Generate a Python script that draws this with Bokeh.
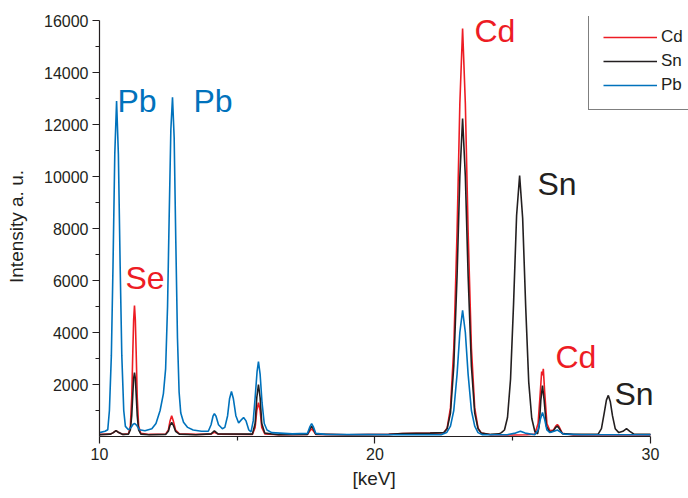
from bokeh.plotting import figure
from bokeh.models import Label, Legend, LegendItem, FixedTicker, Range1d, Title
from bokeh.embed import file_html
from bokeh.resources import INLINE

# ---------------- data ----------------
cd_x = [10.00, 10.40, 10.50, 10.60, 10.70, 10.85, 11.05, 11.12, 11.17, 11.21, 11.24, 11.27, 11.30, 11.33,
        11.37, 11.42, 11.50, 11.80, 12.40, 12.50, 12.56, 12.62, 12.68, 12.76, 12.90, 13.50, 14.05, 14.17,
        14.30, 15.55, 15.65, 15.71, 15.77, 15.83, 15.89, 16.00, 16.50, 17.55, 17.64, 17.70, 17.76, 17.85,
        19.00, 20.50, 21.00, 22.00, 22.50, 22.62, 22.74, 22.86, 22.98, 23.08, 23.18, 23.28, 23.38, 23.50,
        23.62, 23.74, 23.86, 24.20, 25.00, 25.50, 25.80, 25.92, 26.00, 26.05, 26.08, 26.11, 26.16, 26.24,
        26.35, 26.48, 26.56, 26.62, 26.68, 26.80, 27.20, 28.50, 30.00]
cd_y = [80, 90, 150, 230, 150, 80, 100, 400, 1500, 3300, 4500, 5040, 4500, 3300,
        1500, 400, 120, 80, 90, 250, 600, 800, 600, 250, 100, 80, 90, 160,
        90, 80, 350, 1000, 1300, 1000, 350, 100, 70, 80, 220, 300, 220, 80,
        70, 80, 110, 130, 150, 330, 1100, 3400, 7900, 12800, 15690, 12800, 7900, 3400,
        1100, 330, 130, 70, 60, 70, 90, 500, 1700, 2500, 2350, 2600, 1700, 500,
        220, 250, 400, 460, 380, 120, 60, 60, 60]

sn_x = [10.00, 10.40, 10.50, 10.60, 10.70, 10.85, 11.05, 11.12, 11.17, 11.21, 11.24, 11.27, 11.30, 11.33,
        11.37, 11.42, 11.50, 11.80, 12.40, 12.50, 12.56, 12.62, 12.68, 12.76, 12.90, 13.50, 14.05, 14.17,
        14.30, 15.55, 15.65, 15.71, 15.77, 15.83, 15.89, 16.00, 16.50, 17.55, 17.64, 17.70, 17.76, 17.85,
        19.00, 20.50, 21.00, 22.00, 22.50, 22.62, 22.74, 22.86, 22.98, 23.08, 23.18, 23.28, 23.38, 23.50,
        23.62, 23.74, 23.86, 24.20, 24.50, 24.59, 24.70, 24.81, 24.92, 25.03, 25.14, 25.25, 25.36, 25.47,
        25.58, 25.69, 25.80, 25.90, 25.96, 26.02, 26.08, 26.14, 26.22, 26.35, 26.48, 26.56, 26.62, 26.68,
        26.80, 27.20, 28.10, 28.22, 28.32, 28.40, 28.47, 28.54, 28.62, 28.72, 28.85, 29.00, 29.13, 29.25,
        29.40, 30.00]
sn_y = [70, 90, 150, 230, 150, 80, 90, 250, 800, 1650, 2250, 2460, 2250, 1650,
        800, 250, 90, 70, 80, 200, 430, 540, 430, 200, 90, 70, 100, 220,
        100, 90, 500, 1500, 2000, 1500, 500, 130, 70, 80, 300, 400, 300, 90,
        70, 80, 110, 130, 150, 300, 900, 2700, 6200, 10000, 12230, 10000, 6200, 2700,
        900, 300, 130, 80, 100, 150, 250, 730, 2200, 5100, 8500, 10040, 8400, 5000,
        2100, 700, 200, 100, 400, 1400, 1960, 1400, 400, 160, 220, 350, 400, 320,
        110, 80, 90, 300, 900, 1400, 1580, 1350, 800, 300, 150, 200, 300, 200,
        90, 80]

pb_x = [10.00, 10.20, 10.30, 10.36, 10.43, 10.49, 10.555, 10.62, 10.685, 10.75, 10.81, 10.88, 10.94, 11.05,
        11.15, 11.22, 11.28, 11.35, 11.45, 11.65, 11.90, 12.05, 12.20, 12.32, 12.40, 12.47, 12.53, 12.59,
        12.65, 12.71, 12.77, 12.83, 12.89, 12.95, 13.05, 13.20, 13.40, 13.70, 13.95, 14.05, 14.12, 14.17,
        14.23, 14.32, 14.46, 14.55, 14.65, 14.72, 14.79, 14.86, 14.95, 15.05, 15.13, 15.23, 15.32, 15.42,
        15.50, 15.58, 15.65, 15.72, 15.77, 15.83, 15.90, 15.98, 16.08, 16.25, 17.00, 17.55, 17.64, 17.70,
        17.76, 17.85, 18.20, 21.00, 22.40, 22.60, 22.74, 22.86, 22.98, 23.08, 23.18, 23.28, 23.38, 23.50,
        23.62, 23.74, 23.90, 24.80, 25.10, 25.28, 25.45, 25.80, 25.92, 26.00, 26.08, 26.16, 26.24, 26.35,
        26.50, 26.62, 26.72, 26.85, 27.50, 30.00]
pb_y = [150, 200, 260, 1000, 3100, 6550, 10870, 12900, 10870, 6550, 3100, 1000, 390, 260,
        350, 470, 500, 430, 260, 220, 300, 500, 1000, 1650, 2600, 5000, 8500, 11800,
        13050, 11500, 7500, 3800, 1700, 900, 550, 350, 250, 200, 200, 450, 780, 880,
        780, 450, 300, 350, 800, 1450, 1730, 1450, 800, 520, 620, 730, 600, 250,
        180, 600, 1500, 2500, 2880, 2400, 1300, 500, 250, 150, 100, 120, 380, 500,
        380, 120, 80, 70, 70, 150, 400, 1000, 2400, 4000, 4850, 4000, 2400, 1000,
        400, 150, 70, 70, 130, 200, 130, 70, 250, 650, 920, 650, 250, 150,
        200, 250, 180, 90, 70, 70]

series_names = ["Cd", "Sn", "Pb"]
series_colors = ["#ed1c24", "#231f20", "#0072bc"]

peak_texts = ["Pb", "Pb", "Se", "Cd", "Sn", "Cd", "Sn"]
peak_text_x = [10.65, 13.41, 10.94, 23.61, 25.90, 26.55, 28.69]
peak_text_y = [12920, 12920, 6080, 15615, 9730, 3040, 1650]
peak_text_series = [2, 2, 0, 0, 1, 0, 1]

x_ticks = [10, 20, 30]
x_minor = [15, 25]
y_ticks = [2000, 4000, 6000, 8000, 10000, 12000, 14000, 16000]
y_minor = [1000, 3000, 5000, 7000, 9000, 11000, 13000, 15000]
x_title = "[keV]"
y_title = "Intensity a. u."

# ---------------- figure ----------------
FONT = "Liberation Sans"
INK = "#231f20"

# frame runs past the axis ends (axis bounds stop at 30 keV / 16000) so the legend can sit at the edge
p = figure(width=688, height=498, x_range=Range1d(10, 31.38), y_range=Range1d(0, 16154),
           output_backend="svg", toolbar_location=None,
           min_border_left=99, min_border_right=0, min_border_top=16, min_border_bottom=62)
p.outline_line_color = None
p.grid.visible = False
p.background_fill_color = "white"
p.border_fill_color = "white"

renderers = []
for xs, ys, col in zip([cd_x, sn_x, pb_x], [cd_y, sn_y, pb_y], series_colors):
    r = p.line(xs, ys, line_color=col, line_width=1.6)
    renderers.append(r)

for t, tx, ty, si in zip(peak_texts, peak_text_x, peak_text_y, peak_text_series):
    p.add_layout(Label(x=tx, y=ty, text=t, text_color=series_colors[si], text_font=FONT,
                       text_font_size="32px", text_align="left", text_baseline="middle"))

xa = p.xaxis[0]
xa.ticker = FixedTicker(ticks=x_ticks, minor_ticks=x_minor)
xa.bounds = (10, 30)
ya = p.yaxis[0]
ya.ticker = FixedTicker(ticks=y_ticks, minor_ticks=y_minor)
ya.bounds = (0, 16000)
ya.axis_label = y_title

for ax in (xa, ya):
    ax.axis_line_color = INK
    ax.axis_line_width = 1.2
    ax.major_tick_line_color = INK
    ax.minor_tick_line_color = INK
    ax.major_tick_line_width = 1.2
    ax.minor_tick_line_width = 1.2
    ax.major_tick_in = 0
    ax.major_tick_out = 7
    ax.minor_tick_in = 0
    ax.minor_tick_out = 4
    ax.major_label_text_font = FONT
    ax.major_label_text_font_size = "16px"
    ax.major_label_text_color = INK
    ax.axis_label_text_font = FONT
    ax.axis_label_text_font_size = "19px"
    ax.axis_label_text_font_style = "normal"
    ax.axis_label_text_color = INK
    ax.major_label_standoff = 4
ya.axis_label_standoff = 14

# x-axis title centred under the 10-30 keV axis (not under the wider frame)
xt = Title(text=x_title, align="left", offset=253, standoff=6,
           text_font=FONT, text_font_size="19px", text_font_style="normal", text_color=INK)
p.add_layout(xt, "below")

legend = Legend(items=[LegendItem(label=n, renderers=[r]) for n, r in zip(series_names, renderers)],
                location=(489, 326))
legend.border_line_color = "black"
legend.border_line_width = 1
legend.background_fill_color = "white"
legend.background_fill_alpha = 1
legend.padding = 14
legend.spacing = 4
legend.margin = 0
legend.label_height = 18
legend.glyph_height = 18
legend.glyph_width = 54
legend.label_standoff = 4
legend.label_width = 40
legend.label_text_font = FONT
legend.label_text_font_size = "17px"
legend.label_text_color = INK
p.add_layout(legend)

open("out.html", "w").write(file_html(p, INLINE))
